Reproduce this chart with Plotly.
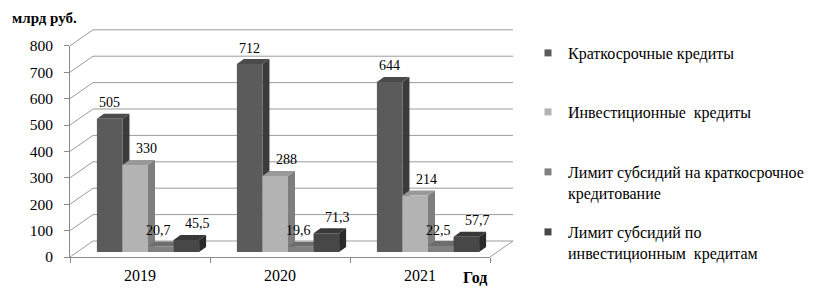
import plotly.graph_objects as go

# ---------------- data ----------------
years = ["2019", "2020", "2021"]
series_names = [
    "Краткосрочные кредиты",
    "Инвестиционные  кредиты",
    "Лимит субсидий на краткосрочное<br>кредитование",
    "Лимит субсидий по<br>инвестиционным  кредитам",
]
short_term_credits = [505, 712, 644]
investment_credits = [330, 288, 214]
subsidy_limit_short = [20.7, 19.6, 22.5]
subsidy_limit_invest = [45.5, 71.3, 57.7]
y_ticks = [0, 100, 200, 300, 400, 500, 600, 700, 800]
y_title = "млрд руб."
x_title = "Год"

series_values = [short_term_credits, investment_credits,
                 subsidy_limit_short, subsidy_limit_invest]

# ---------------- style ----------------
W, H = 824, 295
FONT = "Liberation Serif"
front_colors = ["#5b5b5b", "#b3b3b3", "#808080", "#474747"]
top_colors = ["#4b4b4b", "#999999", "#6d6d6d", "#383838"]
side_colors = ["#3b3b3b", "#7e7e7e", "#5a5a5a", "#2a2a2a"]
label_xshift = [0, 11, -2, 11]
GRID = "#9c9c9c"
AXIS = "#8a8a8a"

FX0, FX1, FY0 = 70, 490, 257        # front plane (axis labels)
PXU = 0.264                          # px per value unit
YMAX = y_ticks[-1]
BAR_OFF = (8, -5)                    # bar front plane offset
BACK_OFF = (23, -16)                 # back wall offset
DEPTH = (7, -5)                      # bar depth in px
BARGAP = 0.27


def px(x):
    return x / W


def py(y):
    return 1 - y / H


ncat = len(years)
cat_px = (FX1 - FX0) / ncat

x_dom = [px(FX0 + BAR_OFF[0]), px(FX1 + BAR_OFF[0])]
y_dom = [py(FY0 + BAR_OFF[1]), py(FY0 + BAR_OFF[1] - YMAX * PXU)]
x2_dom = [px(FX0), px(FX1)]
y2_dom = [py(FY0), py(FY0 - YMAX * PXU)]

fig = go.Figure()

xidx = list(range(ncat))
nser = len(series_values)
gw = 1 - BARGAP
bw = gw / nser
ddx = DEPTH[0] / cat_px
ddy = -DEPTH[1] / PXU

shapes = []
# back wall grid + side wall diagonals
for v in y_ticks:
    yb = FY0 + BACK_OFF[1] - v * PXU
    yf = FY0 - v * PXU
    shapes.append(dict(type="line", xref="paper", yref="paper", layer="below",
                       x0=px(FX0 + BACK_OFF[0]), x1=px(FX1 + BACK_OFF[0]),
                       y0=py(yb), y1=py(yb), line=dict(color=GRID, width=1)))
    shapes.append(dict(type="line", xref="paper", yref="paper", layer="below",
                       x0=px(FX0), x1=px(FX0 + BACK_OFF[0]),
                       y0=py(yf), y1=py(yb), line=dict(color=GRID, width=1)))
# floor right edge
shapes.append(dict(type="line", xref="paper", yref="paper", layer="below",
                   x0=px(FX1), x1=px(FX1 + BACK_OFF[0]),
                   y0=py(FY0), y1=py(FY0 + BACK_OFF[1]),
                   line=dict(color=GRID, width=1)))

annotations = []
for i, (name, vals) in enumerate(zip(series_names, series_values)):
    fig.add_trace(go.Bar(
        x=xidx, y=vals, name=name.replace("<br>", " "),
        marker=dict(color=front_colors[i], line=dict(width=0)),
        showlegend=False, xaxis="x", yaxis="y",
        hovertext=years, hoverinfo="text+y",
    ))
    for j, v in enumerate(vals):
        left = j - gw / 2 + i * bw
        right = left + bw
        shapes.append(dict(
            type="path", xref="x", yref="y", layer="below",
            path=f"M{left},{v} L{right},{v} L{right+ddx},{v+ddy} L{left+ddx},{v+ddy} Z",
            fillcolor=top_colors[i], line=dict(width=0)))
        shapes.append(dict(
            type="path", xref="x", yref="y", layer="below",
            path=f"M{right},0 L{right},{v} L{right+ddx},{v+ddy} L{right+ddx},{ddy} Z",
            fillcolor=side_colors[i], line=dict(width=0)))
        annotations.append(dict(
            x=left + bw / 2, y=v, xref="x", yref="y",
            text=f"{v:g}".replace(".", ","), showarrow=False,
            yanchor="middle", yshift=16, xshift=label_xshift[i],
            font=dict(family=FONT, size=14, color="black")))

# legend entries (small square markers)
legend_tops = [36, 95, 155, 215]
for i, name in enumerate(series_names):
    lg = "legend" if i == 0 else f"legend{i+1}"
    fig.add_trace(go.Scatter(
        x=[None], y=[None], mode="markers", name=name,
        marker=dict(symbol="square", size=7, color=front_colors[i]),
        xaxis="x", yaxis="y", legend=lg, showlegend=True,
    ))

# helper trace so the front-plane axes exist
fig.add_trace(go.Scatter(x=years, y=[None] * ncat, xaxis="x2", yaxis="y2",
                         mode="markers", showlegend=False, hoverinfo="skip"))

annotations.append(dict(x=px(10), y=py(18), xref="paper", yref="paper",
                        text=f"<b>{y_title}</b>", showarrow=False,
                        xanchor="left", yanchor="middle",
                        font=dict(family=FONT, size=15, color="black")))
annotations.append(dict(x=px(461), y=py(277), xref="paper", yref="paper",
                        text=f"<b>{x_title}</b>", showarrow=False,
                        xanchor="left", yanchor="middle",
                        font=dict(family=FONT, size=16, color="black")))

legend_common = dict(x=px(528), xanchor="left", yanchor="top",
                     bgcolor="rgba(0,0,0,0)", borderwidth=0, valign="top",
                     font=dict(family=FONT, size=16, color="black"),
                     itemclick=False, itemdoubleclick=False)
layout_legends = {}
for i, t in enumerate(legend_tops):
    key = "legend" if i == 0 else f"legend{i+1}"
    layout_legends[key] = dict(legend_common, y=py(t))

fig.update_layout(
    width=W, height=H,
    margin=dict(l=0, r=0, t=0, b=0, autoexpand=False),
    paper_bgcolor="white", plot_bgcolor="rgba(0,0,0,0)",
    barmode="group", bargap=BARGAP, bargroupgap=0,
    font=dict(family=FONT, size=15, color="black"),
    xaxis=dict(domain=x_dom, range=[-0.5, ncat - 0.5], visible=False,
               fixedrange=True, automargin=False),
    yaxis=dict(domain=y_dom, range=[0, YMAX], visible=False, fixedrange=True,
               automargin=False),
    xaxis2=dict(domain=x2_dom, anchor="y2", type="category",
                categoryorder="array", categoryarray=years,
                range=[-0.5, ncat - 0.5], showline=True, linecolor=AXIS,
                ticks="outside", tickson="boundaries", ticklen=5,
                tickcolor=AXIS, showgrid=False, zeroline=False,
                automargin=False, ticklabelstandoff=4,
                tickfont=dict(family=FONT, size=16, color="black"),
                fixedrange=True),
    yaxis2=dict(domain=y2_dom, anchor="x2", range=[0, YMAX],
                tickvals=y_ticks, showline=True, linecolor=AXIS,
                ticks="outside", ticklen=5, tickcolor=AXIS,
                ticklabelstandoff=8, automargin=False,
                showgrid=False, zeroline=False,
                tickfont=dict(family=FONT, size=15.5, color="black"),
                fixedrange=True),
    shapes=shapes,
    annotations=annotations,
    showlegend=True,
    **layout_legends,
)

fig.write_html("out.html")
